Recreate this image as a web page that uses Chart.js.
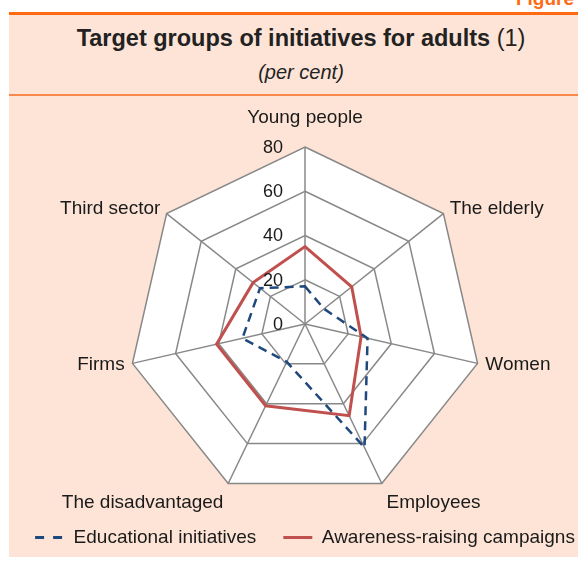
<!DOCTYPE html>
<html>
<head>
<meta charset="utf-8">
<script src="https://cdn.jsdelivr.net/npm/chart.js@4.4.0/dist/chart.umd.min.js"></script>
<style>
  html, body { margin: 0; padding: 0; }
  body { width: 578px; height: 561px; overflow: hidden; position: relative; background: #fff;
         font-family: "Liberation Sans", Arial, sans-serif; color: #222; }
  #fig { position: absolute; right: 4px; top: -11px; font: bold 19px/19px "Liberation Sans", Arial, sans-serif; color: #FF6A13; }
  #panel { position: absolute; left: 9px; right: 0; top: 12px; bottom: 4px; background: #FDE4D6; border-top: 3px solid #FF6A13; }
  #rule { position: absolute; left: 9px; right: 0; top: 94px; height: 2px; background: #F7894A; }
  #title { position: absolute; left: 24px; right: 0; top: 24px; text-align: center; font-size: 23.5px; line-height: 28px; }
  #title b { font-weight: bold; }
  #subtitle { position: absolute; left: 24px; right: 0; top: 60px; text-align: center; font-size: 20px; line-height: 24px; font-style: italic; }
  #wrap { position: absolute; left: 0; top: 0; width: 610px; height: 561px; }
</style>
</head>
<body>
<div id="fig">Figure</div>
<div id="panel"></div>
<div id="rule"></div>
<div id="title"><b>Target groups of initiatives for adults</b> (1)</div>
<div id="subtitle">(per cent)</div>
<div id="wrap"><canvas id="radar-chart"></canvas></div>
<script>
// Categories and values (per cent)
const targetGroups = ['Young people', 'The elderly', 'Women', 'Employees', 'The disadvantaged', 'Firms', 'Third sector'];
const educationalInitiatives = [17, 11, 29, 62, 19, 29, 26];
const awarenessCampaigns = [35, 27, 26, 46, 41, 41, 30];
const scaleMax = 80;
const scaleStep = 20;

const fontFamily = '"Liberation Sans", Arial, sans-serif';

// Draws the category names and the tick values the way the original does
const radarText = {
    id: 'radarText',
    afterDraw(chart) {
        const scale = chart.scales.r;
        const ctx = chart.ctx;
        ctx.save();
        ctx.fillStyle = '#1a1a1a';
        ctx.font = '19px ' + fontFamily;
        chart.data.labels.forEach((label, i) => {
            const v = scale.getPointPosition(i, scale.drawingArea);
            const dx = v.x - scale.xCenter;
            const dy = v.y - scale.yCenter;
            let pad = 8, align = dx > 0 ? 'left' : 'right', base = 'middle';
            if (Math.abs(dx) < 1) {
                pad = 29; align = 'center';
            } else if (dy > scale.drawingArea * 0.5) {
                pad = 11; base = 'top';
            }
            const p = scale.getPointPosition(i, scale.drawingArea + pad);
            ctx.textAlign = align;
            ctx.textBaseline = base;
            ctx.fillText(label, p.x, p.y);
        });
        ctx.font = '18px ' + fontFamily;
        ctx.textAlign = 'right';
        ctx.textBaseline = 'middle';
        scale.ticks.forEach(t => {
            const y = scale.yCenter - scale.getDistanceFromCenterForValue(t.value);
            ctx.fillText(t.label, scale.xCenter - 22, y + 1);
        });
        ctx.restore();
    }
};

const ctx = document.getElementById('radar-chart').getContext('2d');
const radarChart = new Chart(ctx, {
    type: 'radar',
    data: {
        labels: targetGroups,
        datasets: [{
            label: 'Educational initiatives',
            data: educationalInitiatives,
            borderColor: '#1F497D',
            backgroundColor: '#1F497D',
            borderWidth: 2.5,
            borderDash: [9, 6],
            fill: false,
            pointRadius: 0
        }, {
            label: 'Awareness-raising campaigns',
            data: awarenessCampaigns,
            borderColor: '#C0504D',
            backgroundColor: '#C0504D',
            borderWidth: 3,
            fill: false,
            pointRadius: 0
        }]
    },
    options: {
        responsive: true,
        maintainAspectRatio: false,
        animation: false,
        devicePixelRatio: 1,
        layout: {
            padding: { top: 147, bottom: 4, left: 0, right: 0 }
        },
        elements: { line: { tension: 0 } },
        scales: {
            r: {
                min: 0,
                max: scaleMax,
                backgroundColor: '#ffffff',
                ticks: { stepSize: scaleStep, display: false },
                pointLabels: { display: false },
                grid: { color: '#888888', lineWidth: 1.5 },
                angleLines: { color: '#888888', lineWidth: 1.5 }
            }
        },
        plugins: {
            legend: {
                position: 'bottom',
                labels: {
                    usePointStyle: true,
                    pointStyle: 'line',
                    pointStyleWidth: 29,
                    padding: 27,
                    color: '#1a1a1a',
                    font: { family: fontFamily, size: 19 },
                    generateLabels(chart) {
                        const items = Chart.defaults.plugins.legend.labels.generateLabels(chart);
                        items.forEach(item => {
                            const ds = chart.data.datasets[item.datasetIndex];
                            item.strokeStyle = ds.borderColor;
                            item.lineWidth = 3;
                            item.lineDash = ds.borderDash ? [9, 9] : [];
                        });
                        return items;
                    }
                }
            },
            tooltip: { enabled: false }
        }
    },
    plugins: [radarText]
});
</script>
</body>
</html>
